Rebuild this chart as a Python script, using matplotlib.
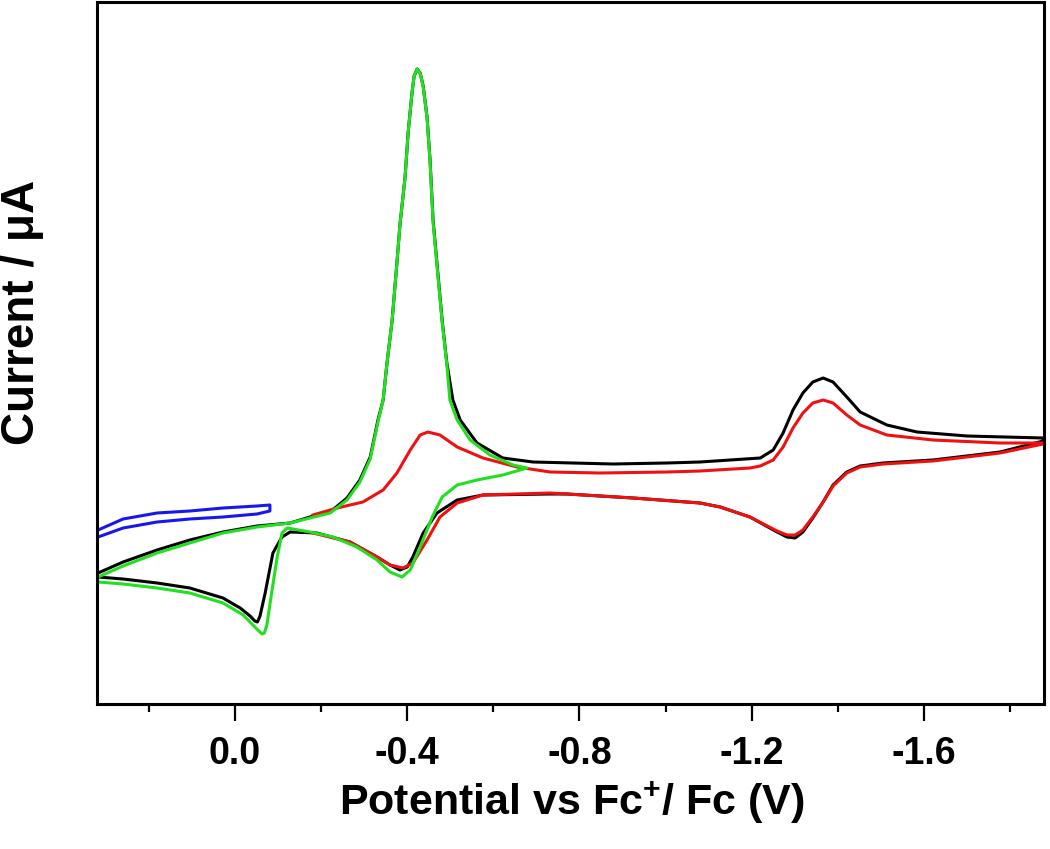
import matplotlib
matplotlib.use('Agg')
import matplotlib.pyplot as plt
from matplotlib.ticker import MultipleLocator

plt.rcParams['font.family'] = ['Liberation Sans', 'DejaVu Sans']
plt.rcParams['font.weight'] = 'bold'
plt.rcParams['mathtext.fontset'] = 'custom'
plt.rcParams['mathtext.rm'] = 'Liberation Sans:bold'
plt.rcParams['mathtext.bf'] = 'Liberation Sans:bold'

# black trace (full scan), potential in V and current in uA
black_E = [0.318, 0.260, 0.181, 0.105, 0.028, -0.051, -0.128, -0.174, -0.221, -0.260,
           -0.290, -0.314, -0.332, -0.344, -0.353, -0.365, -0.376, -0.383, -0.395, -0.402,
           -0.411, -0.416, -0.423, -0.430, -0.437, -0.446, -0.453, -0.460, -0.469, -0.481,
           -0.492, -0.506, -0.523, -0.562, -0.622, -0.692, -0.878, -1.003, -1.080, -1.220,
           -1.250, -1.273, -1.296, -1.319, -1.342, -1.366, -1.389, -1.421, -1.452, -1.514,
           -1.584, -1.700, -1.877,
           -1.877, -1.777, -1.621, -1.505, -1.452, -1.421, -1.389, -1.366, -1.342, -1.319,
           -1.301, -1.282, -1.259, -1.196, -1.127, -1.080, -0.925, -0.771, -0.732, -0.576,
           -0.516, -0.469, -0.437, -0.413, -0.400, -0.383, -0.360, -0.330, -0.267, -0.190,
           -0.128, -0.109, -0.088, -0.070, -0.058, -0.052, -0.046, -0.035, -0.012, 0.028,
           0.105, 0.181, 0.260, 0.318]
black_I = [-5.3, -4.2, -3.0, -2.0, -1.2, -0.6, -0.3, 0.3, 0.8, 2.2,
           4.0, 6.3, 10.0, 12.0, 15.7, 20.0, 25.7, 29.5, 34.3, 38.7,
           42.7, 44.4, 45.1, 44.7, 43.4, 40.3, 36.0, 30.0, 25.7, 20.0,
           15.7, 12.0, 10.0, 7.7, 6.2, 5.8, 5.6, 5.7, 5.8, 6.2,
           7.0, 8.7, 11.0, 12.7, 13.8, 14.2, 13.8, 12.3, 10.8, 9.5,
           8.8, 8.4, 8.2,
           7.9, 6.8, 6.0, 5.7, 5.4, 4.8, 3.5, 1.8, 0.2, -1.2,
           -1.8, -1.7, -1.2, 0.3, 1.3, 1.7, 2.2, 2.6, 2.6, 2.5,
           2.0, 0.7, -1.3, -3.7, -4.7, -5.0, -4.5, -3.7, -2.2, -1.3,
           -1.2, -1.7, -3.3, -7.3, -9.6, -10.2, -10.1, -9.6, -8.8, -7.8,
           -6.8, -6.3, -5.9, -5.7]

# red trace (scan starting at -0.18 V)
red_E = [-0.181, -0.237, -0.297, -0.344, -0.376, -0.407, -0.430, -0.448, -0.476, -0.516,
         -0.576, -0.655, -0.732, -0.848, -1.003, -1.080, -1.196, -1.220, -1.250, -1.273,
         -1.296, -1.319, -1.342, -1.366, -1.389, -1.421, -1.452, -1.514, -1.621, -1.777,
         -1.877,
         -1.877, -1.777, -1.621, -1.505, -1.452, -1.421, -1.389, -1.366, -1.342, -1.319,
         -1.301, -1.282, -1.259, -1.196, -1.127, -1.080, -0.925, -0.771, -0.732, -0.576,
         -0.516, -0.476, -0.446, -0.413, -0.390, -0.360, -0.330, -0.267, -0.181]
red_I = [0.5, 1.2, 1.8, 3.0, 4.7, 7.0, 8.5, 8.8, 8.5, 7.3,
         6.2, 5.3, 4.8, 4.7, 4.8, 4.9, 5.2, 5.4, 6.0, 7.3,
         9.2, 10.7, 11.7, 12.0, 11.7, 10.5, 9.5, 8.5, 8.0, 7.7,
         7.7,
         7.6, 6.7, 5.9, 5.6, 5.3, 4.7, 3.4, 1.8, 0.3, -1.0,
         -1.5, -1.5, -1.1, 0.3, 1.3, 1.7, 2.2, 2.6, 2.7, 2.5,
         1.7, 0.3, -2.0, -4.3, -4.8, -4.5, -3.7, -2.2, -1.3]

# green trace (switched at -0.68 V)
green_E = [0.318, 0.260, 0.181, 0.105, 0.028, -0.051, -0.128, -0.174, -0.221, -0.260,
           -0.290, -0.314, -0.332, -0.344, -0.353, -0.365, -0.376, -0.383, -0.395, -0.402,
           -0.411, -0.416, -0.423, -0.430, -0.437, -0.446, -0.453, -0.460, -0.469, -0.481,
           -0.492, -0.499, -0.516, -0.546, -0.592, -0.646, -0.678,
           -0.622, -0.562, -0.516, -0.481, -0.458, -0.430, -0.407, -0.388, -0.360, -0.330,
           -0.283, -0.228, -0.174, -0.121, -0.109, -0.098, -0.086, -0.074, -0.068, -0.063,
           -0.055, -0.046, -0.019, 0.028, 0.105, 0.181, 0.260, 0.318]
green_I = [-5.7, -4.6, -3.3, -2.3, -1.3, -0.7, -0.3, 0.2, 0.7, 2.0,
           3.8, 6.1, 9.8, 12.0, 15.7, 20.0, 25.7, 29.5, 34.3, 38.7,
           42.7, 44.4, 45.1, 44.7, 43.3, 40.2, 35.8, 29.8, 25.5, 19.8,
           15.5, 12.0, 10.0, 8.0, 6.5, 5.5, 5.2,
           4.5, 4.0, 3.5, 2.3, 0.3, -2.7, -5.0, -5.7, -5.2, -4.0,
           -2.7, -1.7, -1.2, -0.8, -1.3, -3.7, -7.0, -10.5, -11.3, -11.4,
           -11.1, -10.7, -9.5, -8.3, -7.3, -6.8, -6.4, -6.2]

# blue trace (short scan near the rest potential)
blue_E = [0.318, 0.260, 0.181, 0.105, 0.028, -0.051, -0.081,
          -0.081, -0.051, 0.028, 0.105, 0.181, 0.260, 0.318]
blue_I = [-1.0, 0.1, 0.7, 0.9, 1.2, 1.4, 1.5,
          0.9, 0.6, 0.3, 0.1, -0.2, -0.8, -1.7]

fig = plt.figure(figsize=(10.5, 8.49), dpi=100)
ax = fig.add_axes([97 / 1050, 1 - 704 / 849, 947 / 1050, 702 / 849])

ax.plot(black_E, black_I, color='black', lw=2.2, solid_joinstyle='round')
ax.plot(red_E, red_I, color='#f01010', lw=2.2, solid_joinstyle='round')
ax.plot(green_E, green_I, color='#20e020', lw=2.2, solid_joinstyle='round')
ax.plot(blue_E, blue_I, color='#1818e8', lw=2.2, solid_joinstyle='round')

ax.set_xlim(0.3206, -1.879)
ax.set_ylim(-18.4, 51.8)

ax.xaxis.set_minor_locator(MultipleLocator(0.2))
ax.set_xticks([0.0, -0.4, -0.8, -1.2, -1.6])
ax.set_xticklabels(['0.0', '-0.4', '-0.8', '-1.2', '-1.6'])
ax.set_yticks([])
ax.tick_params(axis='x', which='major', direction='out', length=12, width=1.6,
               pad=11, labelsize=27)
ax.tick_params(axis='x', which='minor', direction='out', length=6, width=1.6)
for lab in ax.get_xticklabels():
    lab.set_fontweight('bold')
for s in ax.spines.values():
    s.set_linewidth(2.2)

ax.set_xlabel(r'Potential vs Fc$^{\mathbf{+}}$/ Fc (V)', fontsize=31, fontweight='bold')
ax.xaxis.set_label_coords(0.502, -0.108)
ax.xaxis.label.set_va('top')
ax.set_ylabel('Current / μA', fontsize=33, fontweight='bold')
ax.yaxis.set_label_coords(-0.056, 0.558)

plt.savefig('out.png', dpi=100)
